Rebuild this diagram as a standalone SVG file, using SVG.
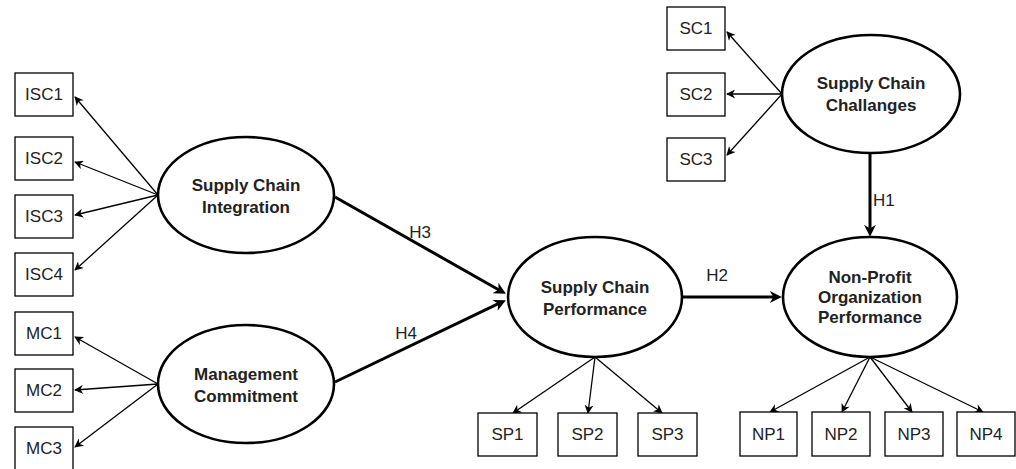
<svg xmlns="http://www.w3.org/2000/svg" width="1016" height="469" viewBox="0 0 1016 469">
<defs>
<style>
.box rect{fill:#fff;stroke:#000;stroke-width:1.3}
.box text{font-family:"Liberation Sans",Arial,sans-serif;font-size:17px;fill:#222;text-anchor:middle}
.lat ellipse{fill:#fff;stroke:#000;stroke-width:2.6}
.lat text{font-family:"Liberation Sans",Arial,sans-serif;font-size:17px;font-weight:bold;fill:#222;text-anchor:middle}
.thin{stroke:#000;stroke-width:1.3;fill:none;marker-end:url(#ah)}
.thick{stroke:#000;stroke-width:3;fill:none;marker-end:url(#ahb)}
.lbl{font-family:"Liberation Sans",Arial,sans-serif;font-size:17px;fill:#222}
</style>
<marker id="ah" viewBox="0 0 10 10" markerUnits="userSpaceOnUse" markerWidth="11" markerHeight="9" refX="9" refY="5" orient="auto">
<path d="M0,0 L10,5 L0,10 L3,5 Z" fill="#000"/>
</marker>
<marker id="ahb" viewBox="0 0 10 10" markerUnits="userSpaceOnUse" markerWidth="14" markerHeight="12" refX="6" refY="5" orient="auto">
<path d="M0,0 L10,5 L0,10 L3,5 Z" fill="#000"/>
</marker>
</defs>
<rect width="1016" height="469" fill="#fff"/>
<g id="connectors">
<line class="thin" x1="158" y1="195" x2="75" y2="97"/>
<line class="thin" x1="158" y1="195" x2="75" y2="162"/>
<line class="thin" x1="158" y1="195" x2="75" y2="215"/>
<line class="thin" x1="158" y1="195" x2="75" y2="270"/>
<line class="thin" x1="158" y1="384" x2="75" y2="337"/>
<line class="thin" x1="158" y1="384" x2="75" y2="390"/>
<line class="thin" x1="158" y1="384" x2="75" y2="447"/>
<line class="thin" x1="782" y1="94" x2="727" y2="32"/>
<line class="thin" x1="782" y1="94" x2="727" y2="94"/>
<line class="thin" x1="782" y1="94" x2="727" y2="155"/>
<line class="thin" x1="595" y1="357" x2="513" y2="413"/>
<line class="thin" x1="595" y1="357" x2="588" y2="413"/>
<line class="thin" x1="595" y1="357" x2="662" y2="413"/>
<line class="thin" x1="870" y1="357" x2="770" y2="412"/>
<line class="thin" x1="870" y1="357" x2="842" y2="412"/>
<line class="thin" x1="870" y1="357" x2="912" y2="412"/>
<line class="thin" x1="870" y1="357" x2="983" y2="412"/>
<line class="thick" x1="335" y1="197" x2="501.7" y2="291.5"/>
<line class="thick" x1="335" y1="382" x2="501.5" y2="302.2"/>
<line class="thick" x1="682" y1="297" x2="777" y2="297"/>
<line class="thick" x1="870" y1="153" x2="870" y2="232"/>
<text class="lbl" x="420" y="238" text-anchor="middle">H3</text>
<text class="lbl" x="406" y="339" text-anchor="middle">H4</text>
<text class="lbl" x="717" y="281" text-anchor="middle">H2</text>
<text class="lbl" x="873" y="206">H1</text>
</g>
<g id="ISC1" class="box"><rect x="15" y="73" width="58" height="43"/><text x="44" y="100">ISC1</text></g>
<g id="ISC2" class="box"><rect x="15" y="137" width="58" height="43"/><text x="44" y="164">ISC2</text></g>
<g id="ISC3" class="box"><rect x="15" y="195" width="58" height="43"/><text x="44" y="222">ISC3</text></g>
<g id="ISC4" class="box"><rect x="15" y="253" width="58" height="43"/><text x="44" y="280">ISC4</text></g>
<g id="MC1" class="box"><rect x="15" y="312" width="58" height="43"/><text x="44" y="339">MC1</text></g>
<g id="MC2" class="box"><rect x="15" y="369" width="58" height="43"/><text x="44" y="396">MC2</text></g>
<g id="MC3" class="box"><rect x="15" y="427" width="58" height="43"/><text x="44" y="454">MC3</text></g>
<g id="SC1" class="box"><rect x="667" y="7" width="58" height="43"/><text x="696" y="34">SC1</text></g>
<g id="SC2" class="box"><rect x="667" y="73" width="58" height="43"/><text x="696" y="100">SC2</text></g>
<g id="SC3" class="box"><rect x="667" y="138" width="58" height="43"/><text x="696" y="165">SC3</text></g>
<g id="SP1" class="box"><rect x="478" y="413" width="59" height="43"/><text x="507.5" y="440">SP1</text></g>
<g id="SP2" class="box"><rect x="558" y="413" width="59" height="43"/><text x="587.5" y="440">SP2</text></g>
<g id="SP3" class="box"><rect x="638" y="413" width="59" height="43"/><text x="667.5" y="440">SP3</text></g>
<g id="NP1" class="box"><rect x="740" y="412" width="57" height="44"/><text x="768.5" y="440">NP1</text></g>
<g id="NP2" class="box"><rect x="812" y="412" width="58" height="44"/><text x="841" y="440">NP2</text></g>
<g id="NP3" class="box"><rect x="885" y="412" width="58" height="44"/><text x="914" y="440">NP3</text></g>
<g id="NP4" class="box"><rect x="957" y="412" width="58" height="44"/><text x="986" y="440">NP4</text></g>
<g id="SCI" class="lat"><ellipse cx="246" cy="195" rx="88" ry="58"/><text x="246" y="191">Supply Chain</text><text x="246" y="213">Integration</text></g>
<g id="MC" class="lat"><ellipse cx="246" cy="384" rx="88" ry="59"/><text x="246" y="380">Management</text><text x="246" y="402">Commitment</text></g>
<g id="SCC" class="lat"><ellipse cx="871" cy="94" rx="89" ry="59"/><text x="871" y="89">Supply Chain</text><text x="871" y="111">Challanges</text></g>
<g id="SCP" class="lat"><ellipse cx="595" cy="297" rx="87" ry="60"/><text x="595" y="293">Supply Chain</text><text x="595" y="315">Performance</text></g>
<g id="NPO" class="lat"><ellipse cx="870" cy="297" rx="87" ry="60"/><text x="870" y="283">Non-Profit</text><text x="870" y="303">Organization</text><text x="870" y="323">Performance</text></g>
</svg>
